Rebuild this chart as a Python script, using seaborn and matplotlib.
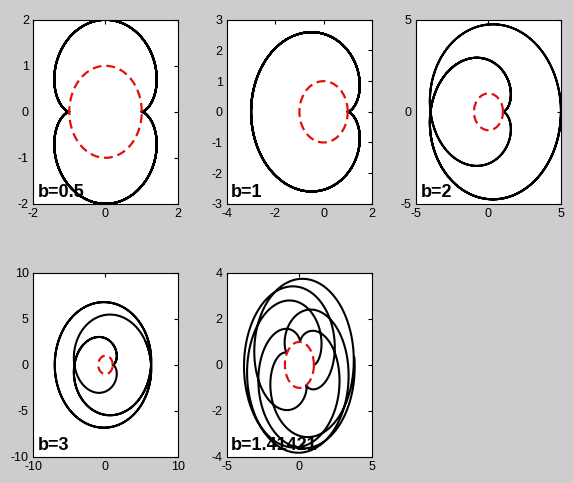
import numpy as np
import pandas as pd
import seaborn as sns
import matplotlib
matplotlib.use("Agg")
import matplotlib.pyplot as plt

# epicycloid: fixed circle radius 1, rolling circle radius b
b_values = [0.5, 1, 2, 3, 1.41421]
labels = ["b=0.5", "b=1", "b=2", "b=3", "b=1.41421"]
x_limits = [(-2, 2), (-4, 2), (-5, 5), (-10, 10), (-5, 5)]
y_limits = [(-2, 2), (-3, 3), (-5, 5), (-10, 10), (-4, 4)]
x_ticks = [[-2, 0, 2], [-4, -2, 0, 2], [-5, 0, 5], [-10, 0, 10], [-5, 0, 5]]
y_ticks = [[-2, -1, 0, 1, 2], [-3, -2, -1, 0, 1, 2, 3], [-5, 0, 5],
           [-10, -5, 0, 5, 10], [-4, -2, 0, 2, 4]]
t_max = 10 * np.pi

sns.set_style("white")
plt.rcParams["font.family"] = ["Liberation Sans", "DejaVu Sans"]
plt.rcParams["axes.unicode_minus"] = False
plt.rcParams["text.color"] = "black"

fig = plt.figure(figsize=(5.73, 4.83), dpi=100, facecolor="#cdcdcd")

lefts = [0.0576, 0.396, 0.726]
bottoms = [0.578, 0.054]
w, h = 0.253, 0.381

t = np.linspace(0, t_max, 3000)
tc = np.linspace(0, 2 * np.pi, 200)
circle = pd.DataFrame({"x": np.cos(tc), "y": np.sin(tc)})

for i, (b, lab) in enumerate(zip(b_values, labels)):
    ax = fig.add_axes([lefts[i % 3], bottoms[i // 3], w, h])
    ax.set_facecolor("white")
    curve = pd.DataFrame({
        "x": (1 + b) * np.cos(t) - b * np.cos((1 + b) * t / b),
        "y": (1 + b) * np.sin(t) - b * np.sin((1 + b) * t / b),
    })
    sns.lineplot(data=curve, x="x", y="y", sort=False, estimator=None,
                 color="black", linewidth=1.5, ax=ax)
    sns.lineplot(data=circle, x="x", y="y", sort=False, estimator=None,
                 color="#e01010", linewidth=1.6, ax=ax,
                 linestyle=(0, (4, 2.2)))
    ax.set_xlim(*x_limits[i])
    ax.set_ylim(*y_limits[i])
    ax.set_xticks(x_ticks[i])
    ax.set_yticks(y_ticks[i])
    ax.set_xlabel("")
    ax.set_ylabel("")
    ax.tick_params(direction="in", length=3, width=0.8, top=True, right=True,
                   labelsize=9, pad=3, colors="black")
    for s in ax.spines.values():
        s.set_visible(True)
        s.set_color("black")
        s.set_linewidth(0.8)
    ax.text(0.03, 0.015, lab, transform=ax.transAxes, fontsize=13,
            fontweight="bold", color="black", ha="left", va="bottom")

fig.savefig("out.png", dpi=100, facecolor=fig.get_facecolor())
